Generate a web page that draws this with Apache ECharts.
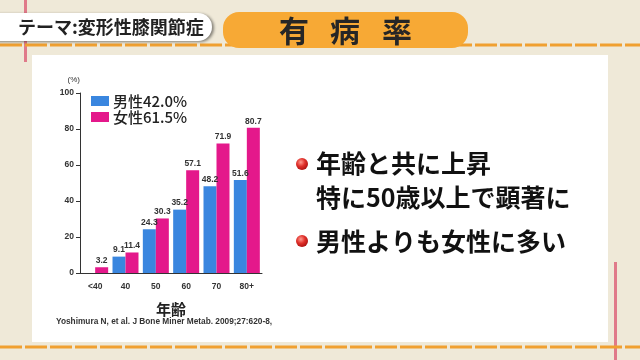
<!DOCTYPE html>
<html>
<head>
<meta charset="utf-8">
<script src="https://cdn.jsdelivr.net/npm/echarts@6/dist/echarts.min.js"></script>
<style>
html,body{margin:0;padding:0;background:#efe9d8;}
#c{width:640px;height:360px;}
</style>
</head>
<body>
<div id="c"></div>
<script>
const categories = ['<40', '40', '50', '60', '70', '80+'];
const maleValues = [null, 9.1, 24.3, 35.2, 48.2, 51.6];
const femaleValues = [3.2, 11.4, 30.3, 57.1, 71.9, 80.7];
const seriesNames = ['男性42.0%', '女性61.5%'];
const yTicks = [0, 20, 40, 60, 80, 100];
const headerTag = 'テーマ:変形性膝関節症';
const titleChars = ['有', '病', '率'];
const bulletLines = ['年齢と共に上昇', '特に50歳以上で顕著に', '男性よりも女性に多い'];
const citation = 'Yoshimura N, et al. J Bone Miner Metab. 2009;27:620-8,';

const JP = '"Noto Sans CJK JP", "Noto Sans", sans-serif';
const LAT = '"Liberation Sans", sans-serif';
const BLUE = '#3a86df';
const PINK = '#e4188b';

const chart = echarts.init(document.getElementById('c'), null, {renderer: 'canvas'});

const bulletFill = new echarts.graphic.RadialGradient(0.4, 0.35, 0.7, [
  {offset: 0, color: '#ff9a8f'},
  {offset: 0.5, color: '#e0302a'},
  {offset: 1, color: '#a8100f'}
]);

const graphics = [
  {type: 'rect', shape: {x: 0, y: 0, width: 640, height: 360}, style: {fill: '#efe9d8'}, z: -10},
  {type: 'rect', shape: {x: 24, y: 0, width: 3, height: 62}, style: {fill: '#e07a8a'}, z: -9},
  {type: 'rect', shape: {x: 614, y: 262, width: 3, height: 98}, style: {fill: '#e07a8a'}, z: -9},
  {type: 'line', shape: {x1: 0, y1: 45, x2: 640, y2: 45}, style: {stroke: '#f0a030', lineWidth: 3, lineDash: [22, 3]}, z: -8},
  {type: 'line', shape: {x1: 0, y1: 347, x2: 640, y2: 347}, style: {stroke: '#f0a030', lineWidth: 3, lineDash: [22, 3]}, z: -8},
  {type: 'rect', shape: {x: 32, y: 55, width: 576, height: 287}, style: {fill: '#ffffff'}, z: -7},
  // header tag
  {type: 'rect', shape: {x: -20, y: 13, width: 232, height: 28, r: 14},
   style: {fill: '#ffffff', shadowColor: 'rgba(0,0,0,0.45)', shadowBlur: 3, shadowOffsetX: 2, shadowOffsetY: 1}, z: -6},
  {type: 'text', style: {text: headerTag, x: 18, y: 27, fill: '#222222', font: 'bold 18px ' + JP, textVerticalAlign: 'middle'}, z: -5},
  // orange banner
  {type: 'rect', shape: {x: 223, y: 12, width: 245, height: 36, r: 16}, style: {fill: '#f7a935'}, z: -6},
  {type: 'text', style: {text: titleChars[0], x: 294, y: 31, fill: '#262626', font: 'bold 30px ' + JP, textAlign: 'center', textVerticalAlign: 'middle'}, z: -5},
  {type: 'text', style: {text: titleChars[1], x: 345, y: 31, fill: '#262626', font: 'bold 30px ' + JP, textAlign: 'center', textVerticalAlign: 'middle'}, z: -5},
  {type: 'text', style: {text: titleChars[2], x: 397, y: 31, fill: '#262626', font: 'bold 30px ' + JP, textAlign: 'center', textVerticalAlign: 'middle'}, z: -5},
  // bullets
  {type: 'circle', shape: {cx: 302, cy: 164, r: 6}, style: {fill: bulletFill}, z: -5},
  {type: 'circle', shape: {cx: 302, cy: 241, r: 6}, style: {fill: bulletFill}, z: -5},
  {type: 'text', style: {text: bulletLines[0], x: 316, y: 163, fill: '#111111', font: 'bold 25px ' + JP, textVerticalAlign: 'middle'}, z: -5},
  {type: 'text', style: {text: bulletLines[1], x: 316, y: 197, fill: '#111111', font: 'bold 25px ' + JP, textVerticalAlign: 'middle'}, z: -5},
  {type: 'text', style: {text: bulletLines[2], x: 316, y: 241, fill: '#111111', font: 'bold 25px ' + JP, textVerticalAlign: 'middle'}, z: -5},
  // citation
  {type: 'text', style: {text: citation, x: 56, y: 322, fill: '#333333', font: 'bold 8.3px ' + LAT, textVerticalAlign: 'middle'}, z: -5}
];

const option = {
  animation: false,
  backgroundColor: 'transparent',
  graphic: graphics,
  legend: {
    orient: 'vertical',
    left: 91,
    top: 93,
    padding: 0,
    itemWidth: 18,
    itemHeight: 10,
    itemGap: 0,
    itemStyle: {borderWidth: 0},
    icon: 'rect',
    data: seriesNames,
    textStyle: {fontFamily: JP, fontSize: 15, fontWeight: 500, lineHeight: 16, color: '#222222', padding: [0, 0, 0, -1]}
  },
  grid: {left: 80, top: 93, width: 182, height: 180, containLabel: false},
  xAxis: {
    type: 'category',
    data: categories,
    name: '年齢',
    nameLocation: 'middle',
    nameGap: 29,
    nameTextStyle: {fontFamily: JP, fontSize: 15, fontWeight: 'bold', color: '#222222'},
    axisLine: {lineStyle: {color: '#333333', width: 1}},
    axisTick: {show: false},
    axisLabel: {fontSize: 8.5, color: '#333333', fontWeight: 'bold', margin: 9, fontFamily: LAT}
  },
  yAxis: {
    type: 'value',
    min: 0,
    max: 100,
    interval: 20,
    name: '(%)',
    nameLocation: 'end',
    nameGap: 9,
    nameTextStyle: {fontSize: 8, color: '#333333', align: 'right', fontFamily: LAT},
    axisLine: {show: true, lineStyle: {color: '#333333', width: 1}},
    axisTick: {show: true, length: 4, lineStyle: {color: '#333333'}},
    splitLine: {show: false},
    axisLabel: {fontSize: 8.5, color: '#333333', fontWeight: 'bold', margin: 6, fontFamily: LAT,
      formatter: v => (yTicks.indexOf(v) >= 0 ? String(v) : '')}
  },
  series: [
    {
      name: seriesNames[0], type: 'bar', data: maleValues, barWidth: 13, barGap: '0%',
      itemStyle: {color: BLUE},
      label: {show: true, position: 'top', distance: 2, fontSize: 8.5, fontWeight: 'bold', color: '#333333', fontFamily: LAT}
    },
    {
      name: seriesNames[1], type: 'bar', data: femaleValues, barWidth: 13, barGap: '0%',
      itemStyle: {color: PINK},
      label: {show: true, position: 'top', distance: 2, fontSize: 8.5, fontWeight: 'bold', color: '#333333', fontFamily: LAT}
    }
  ]
};
chart.setOption(option);
</script>
</body>
</html>
